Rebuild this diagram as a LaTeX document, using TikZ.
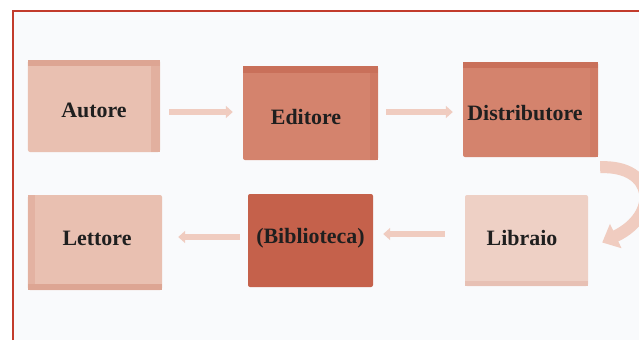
\documentclass[tikz,border=0pt]{standalone}
\usepackage{fontspec}
\setmainfont{Liberation Serif}
\usetikzlibrary{arrows.meta}
\definecolor{bgc}{HTML}{F9FAFC}
\definecolor{framec}{HTML}{C23B2C}
\definecolor{lightc}{HTML}{E9C0B1}
\definecolor{lightd}{HTML}{DDA593}
\definecolor{midc}{HTML}{D4836D}
\definecolor{midd}{HTML}{C9705A}
\definecolor{darkc}{HTML}{C5614B}
\definecolor{darkd}{HTML}{B9533E}
\definecolor{arrc}{HTML}{F0CCC0}
\tikzset{
  box/.style={minimum width=#1, inner sep=0pt, rounded corners=2bp},
  lbl/.style={font=\fontsize{22}{24}\selectfont\bfseries, text=black!88},
  flow/.style={line width=6bp, arrc, -{Triangle[width=12bp,length=7bp]}},
}
\begin{document}
\begin{tikzpicture}[x=1bp,y=-1bp]
\useasboundingbox (0,0) rectangle (639,340);
\fill[white] (0,0) rectangle (639,340);
\fill[bgc] (13,11) rectangle (639,340);
\draw[framec, line width=2.5bp] (13,340) -- (13,11) -- (639,11);

% boxes
\node[box=132bp, minimum height=92bp, fill=lightc] (aut) at (94,106) {};
\fill[lightd] (aut.north west) rectangle ([yshift=-6bp]aut.north east);
\fill[lightd!60!lightc] ([xshift=-9bp,yshift=-6bp]aut.north east) rectangle (aut.south east);
\node[lbl] at (94,110) {Autore};

\node[box=135bp, minimum height=94bp, fill=midc] (edi) at (310.5,113) {};
\fill[midd] (edi.north west) rectangle ([yshift=-7bp]edi.north east);
\fill[midd!50!midc] ([xshift=-8bp,yshift=-7bp]edi.north east) rectangle (edi.south east);
\node[lbl] at (306,117) {Editore};

\node[box=135bp, minimum height=95bp, fill=midc] (dis) at (530.5,109.5) {};
\fill[midd] (dis.north west) rectangle ([yshift=-6bp]dis.north east);
\fill[midd!40!midc] ([xshift=-8bp,yshift=-6bp]dis.north east) rectangle (dis.south east);
\node[lbl] at (525,113) {Distributore};

\node[box=134bp, minimum height=95bp, fill=lightc] (let) at (95,242.5) {};
\fill[lightd] ([yshift=6bp]let.south west) rectangle (let.south east);
\fill[lightd!50!lightc] (let.north west) rectangle ([xshift=7bp,yshift=6bp]let.south west);
\node[lbl] at (97,238) {Lettore};

\node[box=125bp, minimum height=93bp, fill=darkc] (bib) at (310.5,240.5) {};
\node[lbl] at (310.5,238) {(Biblioteca)};

\node[box=123bp, minimum height=91bp, fill=lightc!75!white] (lib) at (526.5,240.5) {};
\fill[lightd!70!white] ([yshift=5bp]lib.south west) rectangle (lib.south east);
\node[lbl] at (522,238) {Libraio};

% connectors
\draw[flow] ([xshift=9bp]aut.east|-0,112) -- ([xshift=-10bp]edi.west|-0,112);
\draw[flow] ([xshift=8bp]edi.east|-0,112) -- ([xshift=-10bp]dis.west|-0,112);
\draw[line width=12bp, arrc, -{Triangle[width=26bp,length=15bp]}]
  ([xshift=2bp,yshift=-10bp]dis.south east) .. controls (655,165) and (660,215) .. ([xshift=14bp,yshift=-2bp]lib.east);
\draw[flow] ([xshift=-20bp]lib.west|-0,234) -- ([xshift=10bp]bib.east|-0,234);
\draw[flow] ([xshift=-8bp]bib.west|-0,237) -- ([xshift=16bp]let.east|-0,237);
\end{tikzpicture}
\end{document}
